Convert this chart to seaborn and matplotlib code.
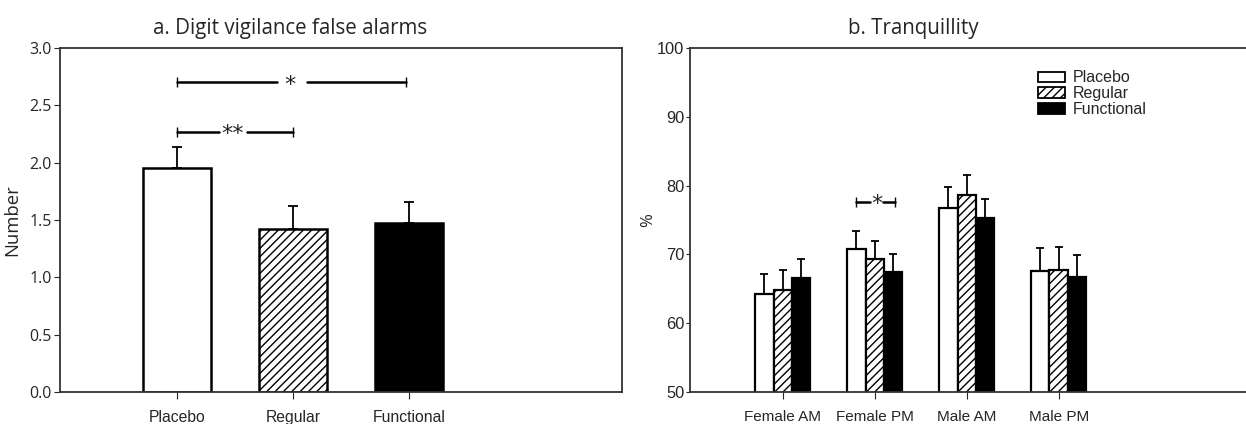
import numpy as np
import pandas as pd
import seaborn as sns
import matplotlib.pyplot as plt
from matplotlib.patches import Patch

# panel a: digit vigilance false alarms
drinks = ['Placebo', 'Regular', 'Functional']
fa_mean = [1.95, 1.42, 1.47]
fa_sem = [0.19, 0.20, 0.19]

# panel b: tranquillity
sessions = ['Female AM', 'Female PM', 'Male AM', 'Male PM']
tq_placebo = [64.2, 70.8, 76.8, 67.6]
tq_regular = [64.8, 69.4, 78.7, 67.8]
tq_functional = [66.5, 67.5, 75.3, 66.7]
tq_placebo_sem = [3.0, 2.6, 3.0, 3.3]
tq_regular_sem = [3.0, 2.6, 2.9, 3.3]
tq_functional_sem = [2.9, 2.6, 2.8, 3.2]

sns.set_style('ticks')
plt.rcParams['font.family'] = ['Open Sans', 'DejaVu Sans']
plt.rcParams['hatch.linewidth'] = 1.0

fills = ['white', 'white', 'black']
hatches = ['', '////', '']

fig = plt.figure(figsize=(12.46, 4.24), dpi=100)
ax1 = fig.add_axes([60 / 1246, 32 / 424, 562 / 1246, 344 / 424])
ax2 = fig.add_axes([690 / 1246, 32 / 424, 570 / 1246, 344 / 424])

# ---- panel a
df1 = pd.DataFrame({'drink': drinks, 'mean': fa_mean})
sns.barplot(data=df1, x='drink', y='mean', hue='drink', palette=fills,
            width=0.59, edgecolor='black', linewidth=1.8, legend=False, ax=ax1)
for p, h in zip(ax1.patches, hatches):
    p.set_hatch(h)
    p.set_zorder(2)
xs = [p.get_x() + p.get_width() / 2 for p in ax1.patches]
ax1.errorbar(xs, fa_mean, yerr=[np.zeros(3), fa_sem], fmt='none',
             ecolor='black', elinewidth=1.3, capsize=3.5, capthick=1.3, zorder=1)

ax1.set_xlim(-1.01, 3.84)
ax1.set_ylim(0, 3.0)
ax1.set_yticks(np.arange(0, 3.01, 0.5))
ax1.set_yticklabels([f'{v:.1f}' for v in np.arange(0, 3.01, 0.5)], fontsize=11.5)
ax1.set_xlabel('')
ax1.set_ylabel('Number', fontsize=13.3, labelpad=6)
ax1.set_title('a. Digit vigilance false alarms', fontsize=14.8, pad=10, x=(290 - 60) / 562)
for lab in ax1.get_xticklabels():
    lab.set_family('Liberation Sans')
    lab.set_fontsize(11.3)
ax1.tick_params(axis='x', length=5, pad=8)
ax1.tick_params(axis='y', length=4, pad=2)

# significance bars
ax1.plot([0, 0.86], [2.70, 2.70], color='black', lw=1.8, marker='|', markevery=[0], ms=7)
ax1.plot([1.12, 1.98], [2.70, 2.70], color='black', lw=1.8, marker='|', markevery=[1], ms=7)
ax1.text(0.97, 2.68, '*', ha='center', va='center', fontsize=16, family='DejaVu Sans')
ax1.plot([0, 0.36], [2.27, 2.27], color='black', lw=1.8, marker='|', markevery=[0], ms=7)
ax1.plot([0.60, 1.0], [2.27, 2.27], color='black', lw=1.8, marker='|', markevery=[1], ms=7)
ax1.text(0.48, 2.25, '**', ha='center', va='center', fontsize=16, family='DejaVu Sans')

# ---- panel b
df2 = pd.DataFrame({
    'session': sessions * 3,
    'drink': ['Placebo'] * 4 + ['Regular'] * 4 + ['Functional'] * 4,
    'value': tq_placebo + tq_regular + tq_functional,
})
sns.barplot(data=df2, x='session', y='value', hue='drink', palette=fills,
            width=0.6, edgecolor='black', linewidth=1.6, legend=False, ax=ax2)
sems = [tq_placebo_sem, tq_regular_sem, tq_functional_sem]
means = [tq_placebo, tq_regular, tq_functional]
bars = ax2.patches
for k in range(3):
    grp = bars[k * 4:(k + 1) * 4]
    for p in grp:
        p.set_hatch(hatches[k])
        p.set_zorder(2)
    bx = [p.get_x() + p.get_width() / 2 for p in grp]
    ax2.errorbar(bx, means[k], yerr=[np.zeros(4), sems[k]], fmt='none',
                 ecolor='black', elinewidth=1.3, capsize=2.7, capthick=1.3, zorder=1)

ax2.set_xlim(-1.01, 5.19)
ax2.set_ylim(50, 100)
ax2.set_yticks(range(50, 101, 10))
for lab in ax2.get_yticklabels() + ax2.get_xticklabels():
    lab.set_family('Liberation Sans')
for lab in ax2.get_yticklabels():
    lab.set_fontsize(11.8)
for lab in ax2.get_xticklabels():
    lab.set_fontsize(11)
ax2.set_xlabel('')
ax2.set_ylabel('%', fontsize=12, labelpad=1)
ax2.set_title('b. Tranquillity', fontsize=14.8, pad=10, x=(913 - 690) / 570)
ax2.tick_params(axis='x', length=5, pad=8)
ax2.tick_params(axis='y', length=3, pad=1)

ax2.plot([0.8, 0.95], [77.6, 77.6], color='black', lw=1.8, marker='|', markevery=[0], ms=7)
ax2.plot([1.09, 1.22], [77.6, 77.6], color='black', lw=1.8, marker='|', markevery=[1], ms=7)
ax2.text(1.02, 77.3, '*', ha='center', va='center', fontsize=16, family='DejaVu Sans')

handles = [Patch(facecolor=c, edgecolor='black', hatch=h, linewidth=1.3)
           for c, h in zip(fills, hatches)]
ax2.legend(handles, drinks, loc='upper left', bbox_to_anchor=(348 / 570, 0.935),
           frameon=False, prop={'family': 'Liberation Sans', 'size': 11.5},
           handlelength=1.7, handleheight=0.62, labelspacing=0.05, handletextpad=0.45,
           borderaxespad=0, borderpad=0)

for ax in (ax1, ax2):
    for s in ax.spines.values():
        s.set_linewidth(1.3)
        s.set_color('#333333')
        s.set_visible(True)

fig.savefig('out.png', dpi=100)
